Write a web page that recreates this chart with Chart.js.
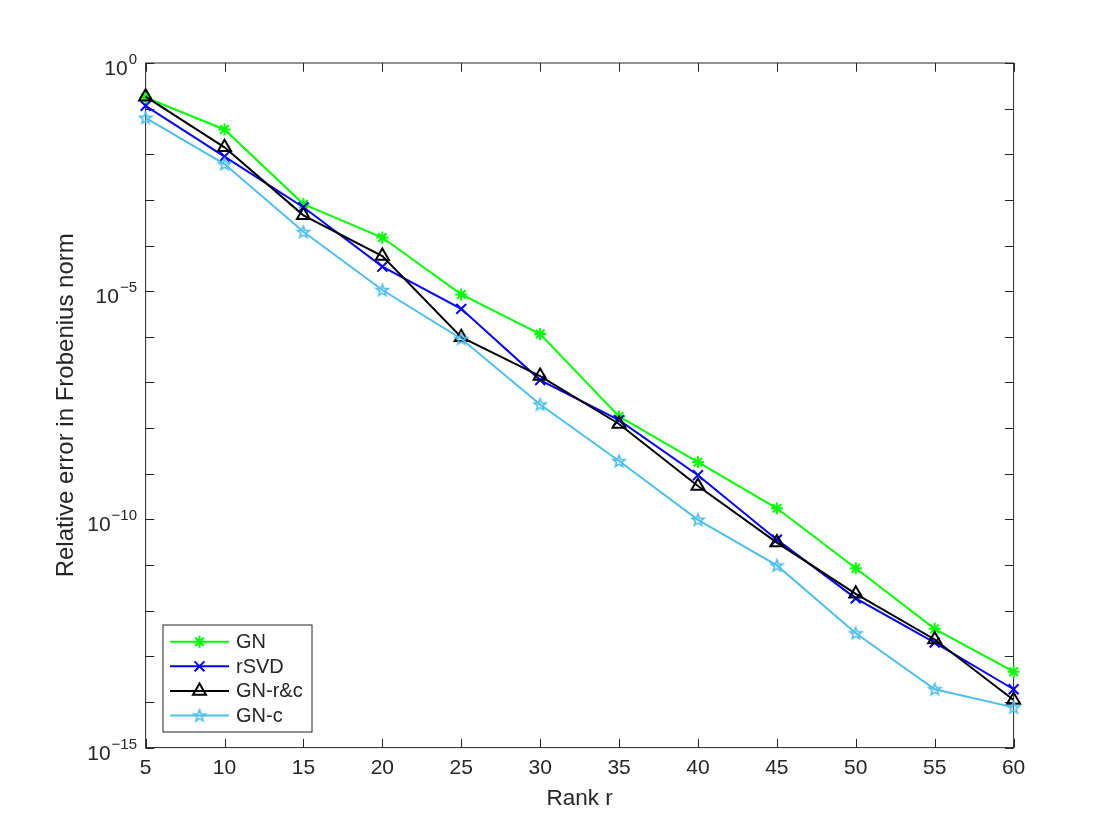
<!DOCTYPE html>
<html>
<head>
<meta charset="utf-8">
<title>Relative error vs rank</title>
<script src="https://cdn.jsdelivr.net/npm/chart.js@4.4.1/dist/chart.umd.min.js"></script>
<style>
  html, body { margin: 0; padding: 0; background: #fff; }
  #wrap { width: 1120px; height: 840px; }
</style>
</head>
<body>
<div id="wrap"><canvas id="errChart" width="1120" height="840"></canvas></div>
<script>
// values
const ranks = [5, 10, 15, 20, 25, 30, 35, 40, 45, 50, 55, 60];
const gnErr   = [1.75e-1, 3.5e-2, 8.1e-4, 1.5e-4, 8.5e-6, 1.15e-6, 1.8e-8, 1.8e-9, 1.75e-10, 8.5e-12, 4.0e-13, 4.6e-14];
const rsvdErr = [1.15e-1, 8.9e-3, 6.9e-4, 3.45e-5, 4.1e-6, 1.13e-7, 1.5e-8, 9.3e-10, 3.6e-11, 1.86e-12, 2.0e-13, 1.9e-14];
const gnRcErr = [1.83e-1, 1.42e-2, 4.6e-4, 5.9e-5, 9.8e-7, 1.38e-7, 1.23e-8, 5.4e-10, 3.1e-11, 2.34e-12, 2.34e-13, 1.1e-14];
const gnCErr  = [6.3e-2, 6.1e-3, 2.0e-4, 1.06e-5, 9.1e-7, 3.3e-8, 1.9e-9, 9.8e-11, 9.8e-12, 3.2e-13, 1.9e-14, 7.6e-15];
const seriesNames = ['GN', 'rSVD', 'GN-r&c', 'GN-c'];
const xTicks = [5, 10, 15, 20, 25, 30, 35, 40, 45, 50, 55, 60];
const yExponents = [0, -1, -2, -3, -4, -5, -6, -7, -8, -9, -10, -11, -12, -13, -14, -15];
const yLabelExponents = [0, -5, -10, -15];

const FONT = '"Liberation Sans", Arial, Helvetica, sans-serif';
const AXIS_COLOR = '#262626';
const TICK_LEN = 8.7;

// MATLAB-style pentagram marker
function makePentagram(color) {
    const c = document.createElement('canvas');
    c.width = 16; c.height = 16;
    const g = c.getContext('2d');
    g.strokeStyle = color;
    g.lineWidth = 1.6;
    g.beginPath();
    for (let i = 0; i < 10; i++) {
        const r = i % 2 === 0 ? 6.2 : 2.6;
        const ang = -Math.PI / 2 + i * Math.PI / 5;
        const px = 8 + r * Math.cos(ang), py = 8.5 + r * Math.sin(ang);
        if (i === 0) g.moveTo(px, py); else g.lineTo(px, py);
    }
    g.closePath();
    g.stroke();
    return c;
}

const toPoints = vals => ranks.map((r, i) => ({ x: r, y: vals[i] }));

const datasets = [
    { label: seriesNames[0], data: toPoints(gnErr), borderColor: '#00ff00', pointBorderColor: '#00ff00',
      pointStyle: 'star', pointRadius: 6, pointBorderWidth: 2, order: 4 },
    { label: seriesNames[1], data: toPoints(rsvdErr), borderColor: '#0000ff', pointBorderColor: '#0000ff',
      pointStyle: 'crossRot', pointRadius: 7, pointBorderWidth: 2, order: 3 },
    { label: seriesNames[2], data: toPoints(gnRcErr), borderColor: '#000000', pointBorderColor: '#000000',
      pointStyle: 'triangle', pointRadius: 7.5, pointBorderWidth: 2, order: 2 },
    { label: seriesNames[3], data: toPoints(gnCErr), borderColor: '#4dbeee', pointBorderColor: '#4dbeee',
      pointStyle: makePentagram('#4dbeee'), pointRadius: 6, pointBorderWidth: 1.6, order: 1 }
].map(ds => Object.assign(ds, {
    borderWidth: 2,
    pointBackgroundColor: 'rgba(0,0,0,0)',
    pointHoverRadius: ds.pointRadius,
    tension: 0,
    fill: false,
    clip: false
}));

// box and inward ticks on all four sides
const axesBox = {
    id: 'axesBox',
    beforeDatasetsDraw(chart) {
        const { ctx, chartArea: a, scales: { x, y } } = chart;
        ctx.save();
        ctx.strokeStyle = AXIS_COLOR;
        ctx.lineWidth = 1;
        ctx.strokeRect(a.left, a.top, a.right - a.left, a.bottom - a.top);
        ctx.beginPath();
        xTicks.forEach(v => {
            const px = Math.round(x.getPixelForValue(v)) + 0.5;
            ctx.moveTo(px, a.bottom); ctx.lineTo(px, a.bottom - TICK_LEN);
            ctx.moveTo(px, a.top); ctx.lineTo(px, a.top + TICK_LEN);
        });
        yExponents.forEach(e => {
            const py = Math.round(y.getPixelForValue(Math.pow(10, e))) + 0.5;
            ctx.moveTo(a.left, py); ctx.lineTo(a.left + TICK_LEN, py);
            ctx.moveTo(a.right, py); ctx.lineTo(a.right - TICK_LEN, py);
        });
        ctx.stroke();
        ctx.restore();
    }
};

// y tick labels as 10 with a raised exponent
const powLabels = {
    id: 'powLabels',
    afterDraw(chart) {
        const { ctx, chartArea: a, scales: { y } } = chart;
        const xr = a.left - 8.6;
        ctx.save();
        ctx.fillStyle = AXIS_COLOR;
        ctx.textAlign = 'right';
        ctx.textBaseline = 'alphabetic';
        yLabelExponents.forEach(e => {
            const py = y.getPixelForValue(Math.pow(10, e));
            const expText = String(e).replace('-', '\u2212');
            ctx.font = '15px ' + FONT;
            const ew = ctx.measureText(expText).width;
            ctx.fillText(expText, xr, py + 1);
            ctx.font = '21px ' + FONT;
            ctx.fillText('10', xr - ew - 1, py + 12);
        });
        ctx.restore();
    }
};

// legend box in the lower left corner, line + marker samples
const boxLegend = {
    id: 'boxLegend',
    afterDatasetsDraw(chart) {
        const { ctx, chartArea: a } = chart;
        const left = a.left + 17.4, bottom = a.bottom - 15.6;
        const w = 149, h = 107, top = bottom - h;
        ctx.save();
        ctx.fillStyle = '#ffffff';
        ctx.fillRect(left, top, w, h);
        ctx.strokeStyle = AXIS_COLOR;
        ctx.lineWidth = 1;
        ctx.strokeRect(left, top, w, h);
        ctx.font = '20px ' + FONT;
        ctx.textBaseline = 'middle';
        ctx.textAlign = 'left';
        chart.data.datasets.forEach((ds, i) => {
            const ry = top + 16.7 + i * 24.6;
            ctx.strokeStyle = ds.borderColor;
            ctx.lineWidth = ds.borderWidth;
            ctx.beginPath();
            ctx.moveTo(left + 7, ry);
            ctx.lineTo(left + 66, ry);
            ctx.stroke();
            ctx.fillStyle = 'rgba(0,0,0,0)';
            Chart.helpers.drawPoint(ctx, {
                pointStyle: ds.pointStyle, rotation: 0,
                radius: ds.pointRadius, borderWidth: ds.pointBorderWidth
            }, left + 36.5, ry);
            ctx.fillStyle = AXIS_COLOR;
            ctx.fillText(ds.label, left + 73, ry + 1);
        });
        ctx.restore();
    }
};

const ctx = document.getElementById('errChart').getContext('2d');
new Chart(ctx, {
    type: 'line',
    data: { datasets: datasets },
    options: {
        responsive: false,
        animation: false,
        events: [],
        layout: { padding: { top: 63, right: 106.4, left: 0, bottom: 0 } },
        plugins: {
            legend: { display: false },
            tooltip: { enabled: false }
        },
        scales: {
            x: {
                type: 'linear',
                min: 5,
                max: 60,
                afterBuildTicks: axis => { axis.ticks = xTicks.map(v => ({ value: v })); },
                afterFit: scale => { scale.height = 92.4; },
                grid: { display: false, drawTicks: false },
                border: { display: false },
                ticks: {
                    autoSkip: false,
                    maxRotation: 0,
                    padding: 8,
                    color: AXIS_COLOR,
                    font: { family: FONT, size: 21 }
                },
                title: {
                    display: true,
                    text: 'Rank r',
                    color: AXIS_COLOR,
                    font: { family: FONT, size: 22.5, lineHeight: 1.2 },
                    padding: { top: 0, bottom: 28 }
                }
            },
            y: {
                type: 'logarithmic',
                min: 1e-15,
                max: 1,
                afterBuildTicks: axis => { axis.ticks = yExponents.map(e => ({ value: Math.pow(10, e) })); },
                afterFit: scale => { scale.width = 145.6; },
                grid: { display: false, drawTicks: false },
                border: { display: false },
                ticks: { display: false },
                title: {
                    display: true,
                    text: 'Relative error in Frobenius norm',
                    color: AXIS_COLOR,
                    font: { family: FONT, size: 24, lineHeight: 1.2 },
                    padding: { top: 52, bottom: 0 }
                }
            }
        }
    },
    plugins: [axesBox, powLabels, boxLegend]
});
</script>
</body>
</html>
